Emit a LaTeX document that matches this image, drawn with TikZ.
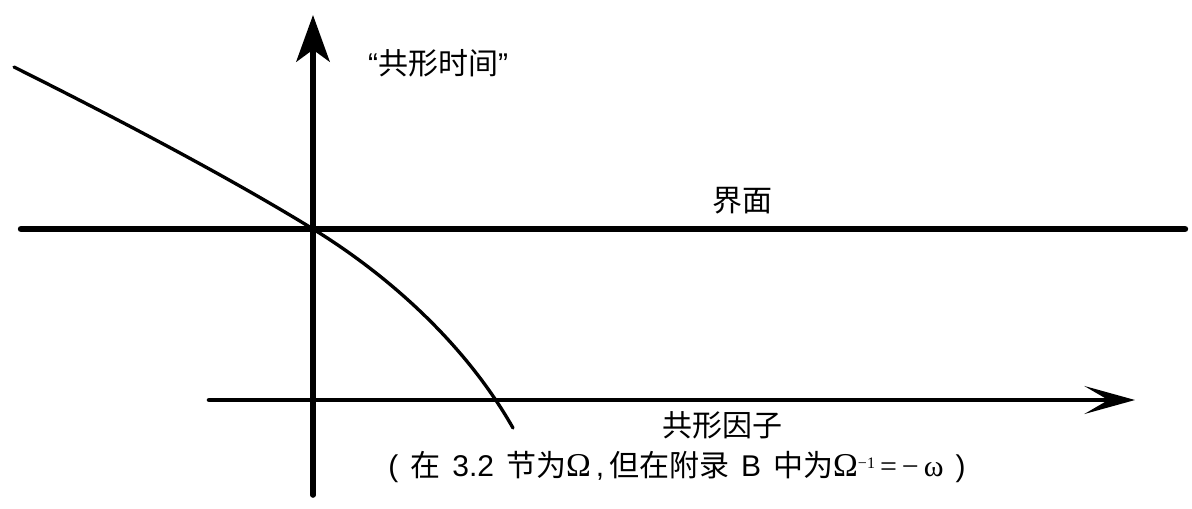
\documentclass[tikz,border=0pt]{standalone}
\usepackage{fontspec}
\setmainfont{Liberation Sans}
\newfontfamily\cjk{Noto Sans CJK SC}
\newfontfamily\grk{Liberation Serif}
\usetikzlibrary{arrows.meta}
\newcommand{\gap}{\hspace{0.4em}}
\begin{document}
\begin{tikzpicture}[x=0.75pt,y=-0.75pt,
  axisline/.style={line width=4.2pt,line cap=round},
  iface/.style={line width=4.8pt,line cap=round},
  faxis/.style={line width=3.4pt,line cap=round},
  curveline/.style={line width=2.5pt,line cap=round},
  lbl/.style={inner sep=0pt,font=\fontsize{22.5}{27}\selectfont}]
\useasboundingbox[fill=white] (0,0) rectangle (1192,508);
% vertical axis
\coordinate (vb) at (313,495);
\coordinate (vt) at (313,15);
\draw[axisline,-{Stealth[length=35pt,width=25pt,inset=9pt]}] (vb) -- (vt);
% interface line
\coordinate (il) at (21,229);
\coordinate (ir) at (1185,229);
\draw[iface] (il) -- (ir);
% conformal factor axis
\coordinate (hl) at (209,400);
\coordinate (hr) at (1135,400);
\draw[faxis,-{Stealth[length=38pt,width=21pt,inset=18pt]}] (hl) -- (hr);
% curve
\coordinate (cs) at (14,67);
\coordinate (cm) at (313,229);
\coordinate (ce) at (513,428);
\draw[curveline] (cs) .. controls (120,120) and (230,178) .. (cm)
  .. controls (380,270) and (462,338) .. (ce);
% labels
\node[lbl] (tlabel) at (438,63) {“{\cjk 共形时间}”};
\node[lbl] (ilabel) at (742,201) {\cjk 界面};
\node[lbl] (flabel) at (722,425) {\cjk 共形因子};
\node[lbl] (note) at (677,467) {(\gap{\cjk 在}\gap 3.2\gap{\cjk 节为}{\grk\fontsize{25}{27}\selectfont Ω}\,,\,{\cjk 但在附录}\gap B\gap{\cjk 中为}{\grk{\fontsize{25}{27}\selectfont Ω}\raisebox{0.6ex}{\fontsize{12}{12}\selectfont −1}\,=\,−\,ω}\gap)};
\end{tikzpicture}
\end{document}
